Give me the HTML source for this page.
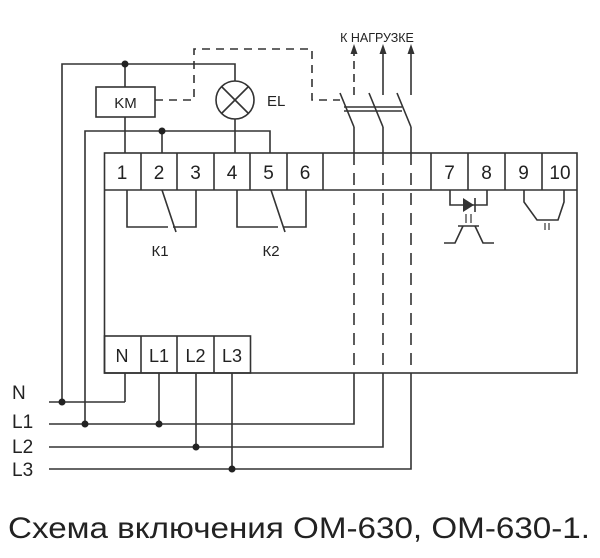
<!DOCTYPE html>
<html><head><meta charset="utf-8"><style>html,body{margin:0;padding:0;background:#fff}svg{display:block}</style></head><body>
<svg width="600" height="558" viewBox="0 0 600 558" xmlns="http://www.w3.org/2000/svg" font-family="Liberation Sans, sans-serif" fill="none" stroke="#333" stroke-width="1.6">
<rect x="104.5" y="153" width="472.5" height="220"/>
<line x1="104.5" y1="190" x2="577" y2="190"/>
<g>
<line x1="141" y1="153" x2="141" y2="190"/><line x1="177" y1="153" x2="177" y2="190"/><line x1="214" y1="153" x2="214" y2="190"/><line x1="250" y1="153" x2="250" y2="190"/><line x1="287" y1="153" x2="287" y2="190"/><line x1="323" y1="153" x2="323" y2="190"/><line x1="431" y1="153" x2="431" y2="190"/><line x1="468" y1="153" x2="468" y2="190"/><line x1="505" y1="153" x2="505" y2="190"/><line x1="542" y1="153" x2="542" y2="190"/>
</g>
<g fill="#222" stroke="none" font-size="19" text-anchor="middle">
<text x="122" y="179">1</text><text x="159" y="179">2</text><text x="195.5" y="179">3</text><text x="232" y="179">4</text><text x="268.5" y="179">5</text><text x="305" y="179">6</text><text x="449.5" y="179">7</text><text x="486.5" y="179">8</text><text x="523.5" y="179">9</text><text x="560" y="179">10</text>
</g>
<rect x="104.5" y="336" width="146" height="37"/>
<line x1="141" y1="336" x2="141" y2="373"/><line x1="177" y1="336" x2="177" y2="373"/><line x1="214" y1="336" x2="214" y2="373"/>
<g fill="#222" stroke="none" font-size="18" text-anchor="middle">
<text x="122" y="362">N</text><text x="159" y="362">L1</text><text x="195.5" y="362">L2</text><text x="232" y="362">L3</text>
</g>
<polyline points="62,402 62,64 235,64 235,81"/>
<line x1="125" y1="64" x2="125" y2="87"/>
<rect x="96" y="87" width="59" height="30"/>
<text x="125.5" y="108" fill="#222" stroke="none" font-size="15" text-anchor="middle">KM</text>
<line x1="125" y1="117" x2="125" y2="153"/>
<circle cx="235" cy="100" r="19"/>
<line x1="221.5" y1="86.5" x2="248.5" y2="113.5"/><line x1="248.5" y1="86.5" x2="221.5" y2="113.5"/>
<text x="267" y="106" fill="#222" stroke="none" font-size="15">EL</text>
<line x1="235" y1="119" x2="235" y2="153"/>
<polyline points="85,424 85,131 270,131 270,153"/>
<line x1="162" y1="131" x2="162" y2="153"/>
<polyline points="155,100 194,100 194,49 312,49 312,100 340,100" stroke-dasharray="8,6"/>
<g>
<line x1="340" y1="93" x2="354" y2="127"/><line x1="369" y1="93" x2="383" y2="127"/><line x1="397" y1="93" x2="411" y2="127"/>
<line x1="344" y1="107" x2="402" y2="107"/><line x1="344" y1="111" x2="402" y2="111"/>
<line x1="354" y1="127" x2="354" y2="153"/><line x1="383" y1="127" x2="383" y2="153"/><line x1="411" y1="127" x2="411" y2="153"/>
<line x1="354" y1="95" x2="354" y2="52" stroke-dasharray="8,5"/><line x1="383" y1="95" x2="383" y2="52"/><line x1="411" y1="95" x2="411" y2="52"/>
<g fill="#333" stroke="none"><polygon points="354,44 350.5,54 357.5,54"/><polygon points="383,44 379.5,54 386.5,54"/><polygon points="411,44 407.5,54 414.5,54"/></g>
<line x1="354" y1="153" x2="354" y2="373" stroke-dasharray="12,8"/><line x1="383" y1="153" x2="383" y2="373" stroke-dasharray="12,8"/><line x1="411" y1="153" x2="411" y2="373" stroke-dasharray="12,8"/>
</g>
<text x="377" y="42" fill="#222" stroke="none" font-size="12.5" text-anchor="middle">К НАГРУЗКЕ</text>
<polyline points="127,190 127,227 168,227"/><polyline points="196,190 196,227 173,227"/><line x1="162" y1="190" x2="176" y2="232"/>
<polyline points="237,190 237,227 278,227"/><polyline points="306,190 306,227 283,227"/><line x1="271" y1="190" x2="285" y2="232"/>
<text x="160" y="256" fill="#222" stroke="none" font-size="15" text-anchor="middle">К1</text>
<text x="271" y="256" fill="#222" stroke="none" font-size="15" text-anchor="middle">К2</text>
<polyline points="450,190 450,205 487,205 487,190"/>
<polygon points="463,198 463,212 474,205" fill="#333" stroke="none"/><line x1="475" y1="198" x2="475" y2="212"/>
<line x1="466" y1="214" x2="466" y2="223" stroke-width="1.2"/><line x1="471" y1="214" x2="471" y2="223" stroke-width="1.2"/>
<line x1="458" y1="226" x2="479" y2="226"/>
<polyline points="444,243 455,243 463,226"/><polyline points="494,243 483,243 475,226"/>
<polyline points="524,190 524,202 537,220 558,220 564,202 564,190"/>
<line x1="545" y1="223" x2="545" y2="230" stroke-width="1.2"/><line x1="549" y1="223" x2="549" y2="230" stroke-width="1.2"/>
<line x1="49" y1="402" x2="125" y2="402"/><line x1="125" y1="373" x2="125" y2="402"/>
<polyline points="49,424 354,424 354,373"/><line x1="159" y1="373" x2="159" y2="424"/>
<polyline points="49,447 383,447 383,373"/><line x1="196" y1="373" x2="196" y2="447"/>
<polyline points="49,469 411,469 411,373"/><line x1="232" y1="373" x2="232" y2="469"/>
<g fill="#222" stroke="none">
<circle cx="125" cy="64" r="3.5"/><circle cx="162" cy="131" r="3.5"/>
<circle cx="62" cy="402" r="3.5"/><circle cx="85" cy="424" r="3.5"/><circle cx="159" cy="424" r="3.5"/><circle cx="196" cy="447" r="3.5"/><circle cx="232" cy="469" r="3.5"/>
</g>
<g fill="#222" stroke="none" font-size="19">
<text x="12" y="399">N</text><text x="12" y="428">L1</text><text x="12" y="453">L2</text><text x="12" y="476">L3</text>
</g>
<text x="8" y="538" fill="#222" stroke="none" font-size="30" textLength="582" lengthAdjust="spacingAndGlyphs">Схема включения ОМ-630, ОМ-630-1.</text>
</svg>
</body></html>
